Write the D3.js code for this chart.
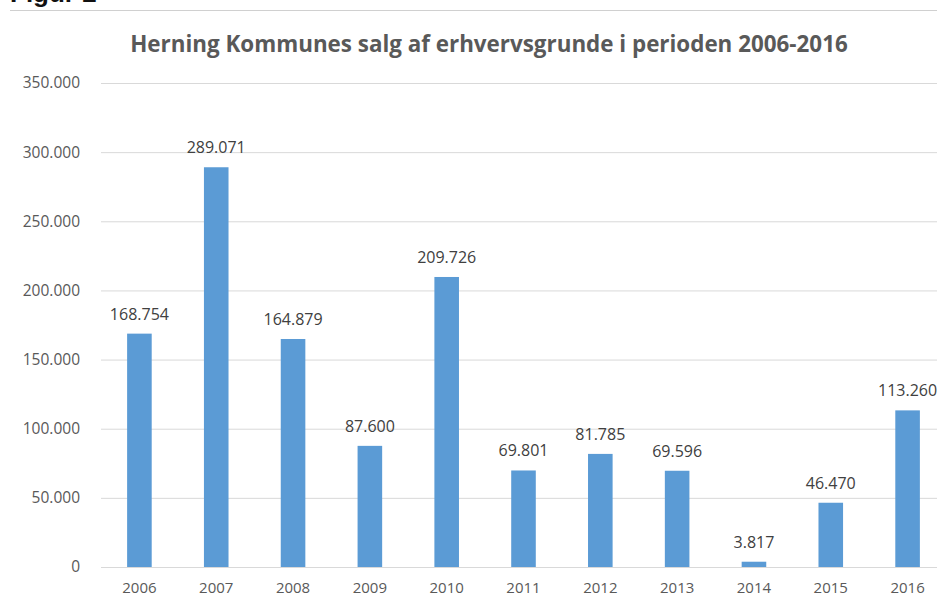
<!DOCTYPE html>
<html>
<head>
<meta charset="utf-8">
<script src="https://cdn.jsdelivr.net/npm/d3@7"></script>
<style>
body{margin:0;background:#fff;}
svg{display:block;font-family:"Open Sans","Noto Sans",sans-serif;}
</style>
</head>
<body>
<div id="chart"></div>
<script>
const years = ['2006','2007','2008','2009','2010','2011','2012','2013','2014','2015','2016'];
const sales = [168754,289071,164879,87600,209726,69801,81785,69596,3817,46470,113260];
const yTicks = [0,50000,100000,150000,200000,250000,300000,350000];

const W = 937, H = 610;
const margin = {top:83, left:101, right:-9, bottom:43};

const da = d3.formatLocale({decimal:',',thousands:'.',grouping:[3],currency:['','kr']});
const fmt = da.format(',d');

const svg = d3.select('#chart')
.append('svg')
.attr('width',W)
.attr('height',H);

// cut-off heading from the page above the chart
svg.append('text')
.attr('x',10)
.attr('y',2)
.style('font-family','"Liberation Sans",sans-serif')
.style('font-weight','bold')
.style('font-size','26px')
.attr('fill','#111')
.text('Figur 2');

svg.append('line')
.attr('x1',10).attr('x2',W)
.attr('y1',10.5).attr('y2',10.5)
.attr('stroke','#d0d0d0');

svg.append('text')
.attr('x',489)
.attr('y',52)
.attr('text-anchor','middle')
.style('font-weight','bold')
.style('font-size','22.4px')
.attr('fill','#595959')
.text('Herning Kommunes salg af erhvervsgrunde i perioden 2006-2016');

const x = d3.scaleBand()
.domain(years)
.range([margin.left, W - margin.right])
.paddingInner(0.68)
.paddingOuter(0.34);

const y = d3.scaleLinear()
.domain([0,350000])
.range([H - margin.bottom, margin.top]);

// grid
const grid = svg.append('g')
.attr('transform',`translate(${margin.left},0)`)
.call(d3.axisLeft(y).tickValues(yTicks).tickSize(-(W - margin.left)).tickFormat(''));
grid.select('.domain').remove();
grid.selectAll('line').attr('stroke','#d9d9d9');

// y labels
const yAxis = svg.append('g')
.attr('transform',`translate(${margin.left - 18},0)`)
.call(d3.axisLeft(y).tickValues(yTicks).tickSize(0).tickFormat(fmt));
yAxis.select('.domain').remove();
yAxis.attr('font-size',null).attr('font-family',null);
yAxis.selectAll('text')
.style('font-size','15.5px')
.attr('fill','#595959');

// bars
svg.append('g')
.selectAll('rect')
.data(sales)
.enter()
.append('rect')
.attr('x',(d,i)=>x(years[i]))
.attr('y',d=>y(d))
.attr('width',x.bandwidth())
.attr('height',d=>y(0)-y(d))
.attr('fill','#5b9bd5');

// baseline + x labels
const xAxis = svg.append('g')
.attr('transform',`translate(0,${y(0)})`)
.call(d3.axisBottom(x).tickSize(0).tickPadding(15));
xAxis.attr('font-size',null).attr('font-family',null);
xAxis.select('.domain')
.attr('stroke','#d9d9d9')
.attr('d',`M${margin.left},0.5H${W}`);
xAxis.selectAll('text')
.style('font-size','15px')
.attr('fill','#595959');

// value labels
svg.append('g')
.selectAll('text')
.data(sales)
.enter()
.append('text')
.attr('x',(d,i)=>x(years[i]) + x.bandwidth()/2)
.attr('y',d=>y(d) - 14)
.attr('text-anchor','middle')
.style('font-size','16px')
.attr('fill','#404040')
.text(d=>fmt(d));
</script>
</body>
</html>
